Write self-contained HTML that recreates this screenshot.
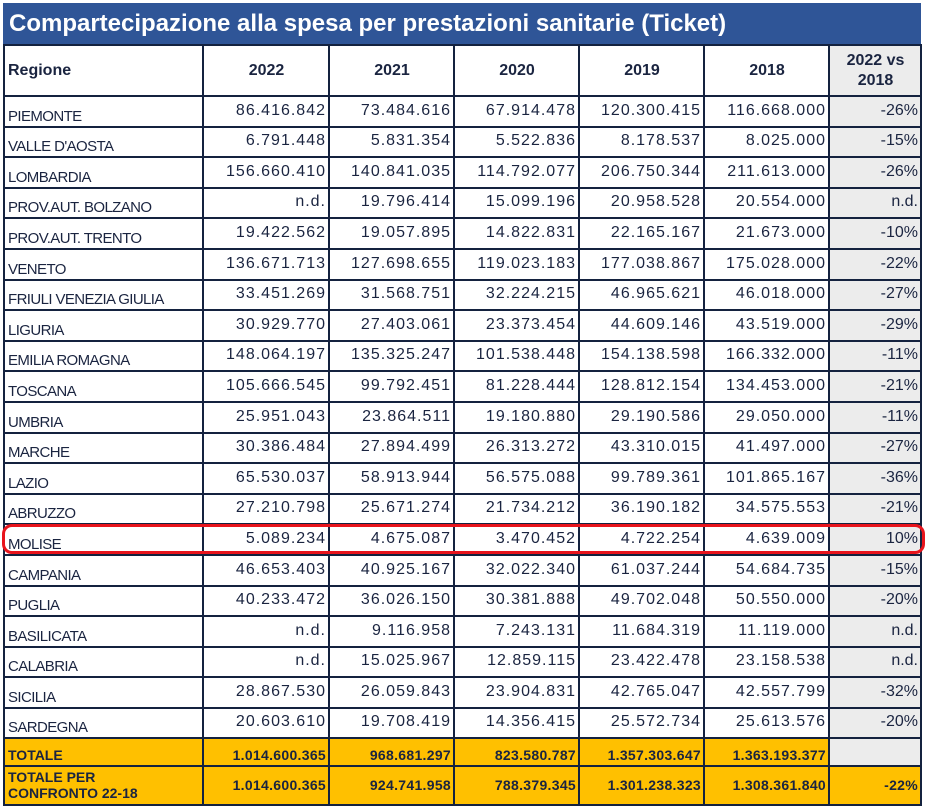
<!DOCTYPE html><html><head><style>
body{margin:0;width:926px;height:811px;background:#fff;position:relative;font-family:"Liberation Sans",Arial,sans-serif;overflow:hidden}
.t{position:absolute;left:3px;top:3px;width:918px;height:41px;background:#2f5597;color:#fff;font-weight:bold;font-size:24px;line-height:41px;padding-left:6px;box-sizing:border-box}
table{position:absolute;left:3px;top:44px;border-collapse:collapse;table-layout:fixed;color:#1a2440}
td{border:2px solid #14223f;font-size:16px;letter-spacing:1px;padding:0 2px 6px 3px;text-align:right;vertical-align:bottom;height:26.5px;box-sizing:border-box;white-space:nowrap;overflow:hidden}
td:first-child{text-align:left;font-size:15px;letter-spacing:-0.6px;padding-bottom:1px}
td:last-child{background:#ececec;letter-spacing:0}
tr.h td{font-weight:bold;text-align:center;vertical-align:middle;height:51px;font-size:16px;letter-spacing:0;padding-bottom:0}
tr.h td:first-child{text-align:left}
tr.y td{background:#ffc000;font-weight:bold;font-size:14px;letter-spacing:0.3px;padding-bottom:2px}
tr.y td:first-child{letter-spacing:0}
tr.y td:last-child{background:#ececec}
tr.y2 td:last-child{background:#ffc000}
.r{position:absolute;left:2px;top:524px;width:923px;height:30px;border:3px solid #e8141c;border-radius:10px;box-sizing:border-box}
</style></head><body>
<div class="t">Compartecipazione alla spesa per prestazioni sanitarie (Ticket)</div>
<table>
<colgroup><col style="width:199px"><col style="width:126px"><col style="width:125px"><col style="width:125px"><col style="width:125px"><col style="width:125px"><col style="width:92px"></colgroup>
<tr class="h"><td>Regione</td><td>2022</td><td>2021</td><td>2020</td><td>2019</td><td>2018</td><td style="line-height:20px">2022 vs<br>2018</td></tr>
<tr style="height:30.6px"><td>PIEMONTE</td><td>86.416.842</td><td>73.484.616</td><td>67.914.478</td><td>120.300.415</td><td>116.668.000</td><td>-26%</td></tr>
<tr style="height:30.6px"><td>VALLE D'AOSTA</td><td>6.791.448</td><td>5.831.354</td><td>5.522.836</td><td>8.178.537</td><td>8.025.000</td><td>-15%</td></tr>
<tr style="height:30.6px"><td>LOMBARDIA</td><td>156.660.410</td><td>140.841.035</td><td>114.792.077</td><td>206.750.344</td><td>211.613.000</td><td>-26%</td></tr>
<tr style="height:30.6px"><td>PROV.AUT. BOLZANO</td><td>n.d.</td><td>19.796.414</td><td>15.099.196</td><td>20.958.528</td><td>20.554.000</td><td>n.d.</td></tr>
<tr style="height:30.6px"><td>PROV.AUT. TRENTO</td><td>19.422.562</td><td>19.057.895</td><td>14.822.831</td><td>22.165.167</td><td>21.673.000</td><td>-10%</td></tr>
<tr style="height:30.6px"><td>VENETO</td><td>136.671.713</td><td>127.698.655</td><td>119.023.183</td><td>177.038.867</td><td>175.028.000</td><td>-22%</td></tr>
<tr style="height:30.6px"><td>FRIULI VENEZIA GIULIA</td><td>33.451.269</td><td>31.568.751</td><td>32.224.215</td><td>46.965.621</td><td>46.018.000</td><td>-27%</td></tr>
<tr style="height:30.6px"><td>LIGURIA</td><td>30.929.770</td><td>27.403.061</td><td>23.373.454</td><td>44.609.146</td><td>43.519.000</td><td>-29%</td></tr>
<tr style="height:30.6px"><td>EMILIA ROMAGNA</td><td>148.064.197</td><td>135.325.247</td><td>101.538.448</td><td>154.138.598</td><td>166.332.000</td><td>-11%</td></tr>
<tr style="height:30.6px"><td>TOSCANA</td><td>105.666.545</td><td>99.792.451</td><td>81.228.444</td><td>128.812.154</td><td>134.453.000</td><td>-21%</td></tr>
<tr style="height:30.6px"><td>UMBRIA</td><td>25.951.043</td><td>23.864.511</td><td>19.180.880</td><td>29.190.586</td><td>29.050.000</td><td>-11%</td></tr>
<tr style="height:30.6px"><td>MARCHE</td><td>30.386.484</td><td>27.894.499</td><td>26.313.272</td><td>43.310.015</td><td>41.497.000</td><td>-27%</td></tr>
<tr style="height:30.6px"><td>LAZIO</td><td>65.530.037</td><td>58.913.944</td><td>56.575.088</td><td>99.789.361</td><td>101.865.167</td><td>-36%</td></tr>
<tr style="height:30.6px"><td>ABRUZZO</td><td>27.210.798</td><td>25.671.274</td><td>21.734.212</td><td>36.190.182</td><td>34.575.553</td><td>-21%</td></tr>
<tr style="height:30.6px"><td>MOLISE</td><td>5.089.234</td><td>4.675.087</td><td>3.470.452</td><td>4.722.254</td><td>4.639.009</td><td>10%</td></tr>
<tr style="height:30.6px"><td>CAMPANIA</td><td>46.653.403</td><td>40.925.167</td><td>32.022.340</td><td>61.037.244</td><td>54.684.735</td><td>-15%</td></tr>
<tr style="height:30.6px"><td>PUGLIA</td><td>40.233.472</td><td>36.026.150</td><td>30.381.888</td><td>49.702.048</td><td>50.550.000</td><td>-20%</td></tr>
<tr style="height:30.6px"><td>BASILICATA</td><td>n.d.</td><td>9.116.958</td><td>7.243.131</td><td>11.684.319</td><td>11.119.000</td><td>n.d.</td></tr>
<tr style="height:30.6px"><td>CALABRIA</td><td>n.d.</td><td>15.025.967</td><td>12.859.115</td><td>23.422.478</td><td>23.158.538</td><td>n.d.</td></tr>
<tr style="height:30.6px"><td>SICILIA</td><td>28.867.530</td><td>26.059.843</td><td>23.904.831</td><td>42.765.047</td><td>42.557.799</td><td>-32%</td></tr>
<tr style="height:30.6px"><td>SARDEGNA</td><td>20.603.610</td><td>19.708.419</td><td>14.356.415</td><td>25.572.734</td><td>25.613.576</td><td>-20%</td></tr>
<tr class="y" style="height:28px"><td>TOTALE</td><td>1.014.600.365</td><td>968.681.297</td><td>823.580.787</td><td>1.357.303.647</td><td>1.363.193.377</td><td></td></tr>
<tr class="y y2" style="height:39px"><td style="line-height:16px;vertical-align:middle">TOTALE PER<br>CONFRONTO 22-18</td><td style="vertical-align:middle">1.014.600.365</td><td style="vertical-align:middle">924.741.958</td><td style="vertical-align:middle">788.379.345</td><td style="vertical-align:middle">1.301.238.323</td><td style="vertical-align:middle">1.308.361.840</td><td style="vertical-align:middle">-22%</td></tr>
</table>
<div class="r"></div>
</body></html>
